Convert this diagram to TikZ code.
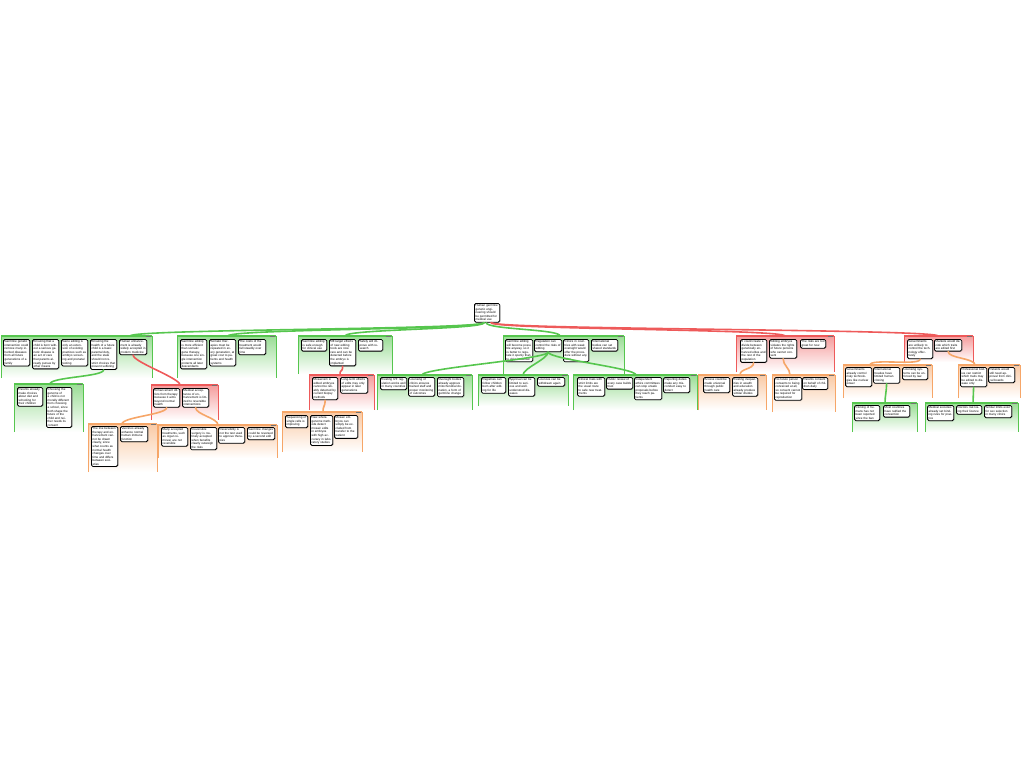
\documentclass[tikz,border=0pt]{standalone}
\usepackage{fontspec}
\setmainfont{Liberation Sans}
\usetikzlibrary{shadows}
\definecolor{pgreen}{RGB}{86,198,78}
\definecolor{pred}{RGB}{238,90,90}
\definecolor{porange}{RGB}{246,166,104}
\tikzset{
  claim/.style={rectangle, rounded corners=1.5pt, draw=black, line width=0.8pt,
    fill=white, drop shadow={shadow xshift=0.7pt, shadow yshift=-0.7pt, opacity=0.45},
    inner sep=1.2pt, anchor=north west, align=left,
    font=\fontsize{3.0}{3.55}\selectfont},
  link/.style={line width=1.6pt, line cap=round}
}
% claim box: name, left x, top y, text width, text
\newcommand{\claim}[5]{\node[claim, text width=#4pt] (#1) at (#2,-#3) {#5};}
% group frame: name, x1, y1, x2, y2, colour, x of the joint on top
\newcommand{\argroup}[7]{
  \shade[top color=#6!60, bottom color=white] (#2,-#3) rectangle (#4,-#5);
  \draw[#6, line width=0.9pt] (#2,-#5) -- (#2,-#3) -- (#4,-#3) -- (#4,-#5);
  \draw[#6, line width=2.2pt] (#2,-#3) -- (#4,-#3);
  \draw[black!55, line width=0.5pt] ({#4-6},-#3) -- ({#4-1},-#3);
  \coordinate (#1) at (#7,-#3);}
\newcommand{\arglink}[3]{\draw[link,#3] (#1) .. controls +(0,-7) and +(0,7) .. (#2);}

\begin{document}
\begin{tikzpicture}[x=1pt,y=1pt]
\useasboundingbox (0,0) rectangle (1024,-768);
% level 1 groups
\argroup{G1}{1}{336}{152}{378}{pgreen}{130}
\argroup{G2}{177}{336}{276}{378}{pgreen}{228}
\argroup{G3}{298}{336}{392}{374}{pgreen}{345}
\argroup{G4}{503}{336}{624}{374}{pgreen}{560}
\argroup{G5}{736}{336}{834}{372}{pred}{785}
\argroup{G6}{904}{336}{973}{362}{pred}{938}
% level 2 groups
\argroup{G1a}{14}{384}{83}{432}{pgreen}{50}
\argroup{G1b}{151}{385}{218}{420}{pred}{180}
\argroup{G3a}{309}{375}{374}{410}{pred}{340}
\argroup{G4a}{377}{375}{472}{410}{pgreen}{422}
\argroup{G4b}{478}{375}{568}{406}{pgreen}{523}
\argroup{G4c}{573}{375}{697}{410}{pgreen}{636}
\argroup{G5a}{698}{375}{766}{410}{porange}{740}
\argroup{G5b}{772}{375}{835}{412}{porange}{790}
\argroup{G6a}{843}{365}{932}{398}{porange}{870}
\argroup{G6b}{958}{365}{1020}{398}{porange}{975}
% level 3 groups
\argroup{G1c}{88}{424}{157}{472}{porange}{122}
\argroup{G1d}{158}{425}{277}{458}{porange}{218}
\argroup{G3b}{282}{412}{362}{452}{porange}{323}
\argroup{G6a1}{852}{403}{917}{432}{pgreen}{885}
\argroup{G6b1}{925}{403}{1018}{432}{pgreen}{973}

% root
\claim{R}{474}{303}{23}{Human germline genetic engineering should be permitted for medical use}
% row 1
\claim{a1}{3}{339}{24}{Germline genetic intervention could remove many inherited diseases from all future generations of a family}
\claim{a2}{32}{339}{24}{Ensuring that a child is born without a serious genetic disease is an act of care that parents already pursue by other means}
\claim{a3}{61}{339}{24}{Gene editing is only an extension of existing practices such as embryo screening and prenatal testing}
\claim{a4}{90}{339}{24}{Ensuring the health of a future child is a basic parental duty, and the state should not restrict choices that prevent suffering}
\claim{a5}{119}{339}{25}{Human enhancement is already widely accepted in modern medicine}
\claim{b1}{180}{339}{24}{Germline editing is more efficient than somatic gene therapy, because one single intervention protects all later descendants}
\claim{b2}{209}{339}{24}{Somatic therapies must be repeated in every generation, at great cost to patients and health systems}
\claim{b3}{238}{339}{25}{The costs of the treatment would fall steadily over time}
\claim{c1}{301}{339}{23}{Germline editing is safe enough for clinical use}
\claim{c2}{329}{339}{24}{Off-target effects of new editing tools are now rare and can be detected before the embryo is implanted}
\claim{c3}{358}{339}{22}{Safety will improve with research}
\claim{d1}{505}{339}{25}{Germline editing will become possible anyway, so it is better to regulate it openly than to drive it abroad}
\claim{d2}{534}{339}{25}{Regulation can control the risks of editing}
\claim{d3}{563}{339}{23}{Clinics in countries with weak oversight would offer the procedure without any rules}
\claim{d4}{591}{339}{24}{International bodies can set shared standards}
\claim{e1}{740}{339}{24}{It could create a divide between genetically enhanced elites and the rest of the population}
\claim{e2}{769}{339}{25}{Editing embryos violates the rights of future persons who cannot consent}
\claim{e3}{800}{339}{23}{The risks are too great for now}
\claim{f1}{907}{339}{23}{Governments are unlikely to control the technology effectively}
\claim{f2}{934}{339}{25}{Markets would decide which traits are edited first}
% row 2
\claim{g1}{17}{387}{23}{Parents already make choices about diet and schooling for their children}
\claim{g2}{46}{387}{23}{Choosing the genome of a child is not morally different from choosing a school, since both shape the future of the child and neither needs its consent}
\claim{h1}{153}{388}{24}{Enhancement differs from therapy because it aims beyond normal health}
\claim{h2}{182}{388}{24}{Medical acceptance of enhancement is limited to reversible interventions}
\claim{k1}{312}{377}{23}{Mosaicism in edited embryos cannot be reliably detected by current biopsy methods}
\claim{k2}{340}{377}{25}{Long-term effects of edits may only appear in later generations}
\claim{m1}{380}{377}{24}{Existing IVF regulation works well in many countries}
\claim{m2}{408}{377}{24}{Licensing of clinics ensures trained staff and proper monitoring of outcomes}
\claim{m3}{437}{377}{24}{Oversight bodies already approve mitochondrial donation, a form of germline change}
\claim{n1}{481}{377}{22}{Registries can follow children born after editing for life}
\claim{n2}{508}{377}{24}{Approval can be limited to serious and well-understood diseases}
\claim{n3}{537}{377}{25}{Licences can be withdrawn again}
\claim{o1}{577}{377}{25}{Clinical trials with strict limits are the usual route to safe new treatments}
\claim{o2}{606}{377}{24}{Public review of every case builds trust}
\claim{o3}{634}{377}{25}{Independent ethics committees can stop unsafe proposals before they reach patients}
\claim{o4}{663}{377}{24}{Reporting duties make any misconduct easy to detect}
\claim{p1}{703}{377}{24}{Access could be made universal through public health care}
\claim{p2}{732}{377}{23}{Existing inequalities in wealth and education already produce similar divides}
\claim{q1}{774}{377}{25}{No future person consents to being conceived at all, so consent cannot be required for reproduction}
\claim{q2}{802}{377}{23}{Parents consent on behalf of children daily}
\claim{r1}{845}{367}{24}{Governments already control risky technologies like nuclear power}
\claim{r2}{873}{367}{24}{International treaties have limited human cloning}
\claim{r3}{902}{367}{23}{Licensing systems can be enforced by law}
\claim{s1}{960}{367}{24}{Professional bodies can restrict which traits may be edited to disease only}
\claim{s2}{988}{367}{24}{Patients would still need approval from clinical boards}
% row 3
\claim{i1}{91}{426}{24}{The line between therapy and enhancement cannot be drawn clearly, since what counts as normal health changes over time and differs between societies}
\claim{i2}{120}{426}{25}{Vaccines already enhance normal human immune function}
\claim{j1}{161}{427}{24}{Many accepted treatments, such as organ removal, are not reversible}
\claim{j2}{190}{427}{24}{Irreversible surgery is routinely accepted when benefits clearly outweigh the risks}
\claim{j3}{218}{427}{24}{Reversibility is not the test used to approve therapies}
\claim{j4}{247}{427}{25}{Germline changes could be reversed by a second edit}
\claim{l1}{285}{415}{20}{Sequencing of single cells is improving}
\claim{l2}{310}{415}{20}{New whole-genome methods detect mosaic edits in embryos with high accuracy in laboratory studies}
\claim{l3}{334}{415}{21}{Mosaic embryos can simply be excluded from transfer to the patient}
\claim{t1}{854}{405}{23}{Cloning of humans has not been reported since the ban}
\claim{t2}{883}{405}{24}{Most countries have ratified the convention}
\claim{u1}{927}{405}{24}{Medical societies already set binding rules for practice}
\claim{u2}{956}{405}{23}{Doctors risk losing their licence}
\claim{u3}{984}{405}{25}{Similar limits exist for sex selection in many clinics}

% links from the root
\arglink{[xshift=-3pt]R.south}{G1}{pgreen}
\arglink{[xshift=-3pt]R.south}{G2}{pgreen}
\arglink{[xshift=-3pt]R.south}{G3}{pgreen}
\arglink{[xshift=-1pt]R.south}{G4}{pgreen}
\arglink{[xshift=4pt]R.south}{G5}{pred}
\arglink{[xshift=4pt]R.south}{G6}{pred}
% links below
\arglink{a4.south}{G1a}{pgreen}
\arglink{a5.south}{G1b}{pred}
\arglink{h1.south}{G1c}{porange}
\arglink{h2.south}{G1d}{porange}
\arglink{c2.south}{G3a}{pred}
\arglink{k1.south}{G3b}{porange}
\arglink{d2.south}{G4a}{pgreen}
\arglink{d2.south}{G4b}{pgreen}
\arglink{d2.south}{G4c}{pgreen}
\arglink{e1.south}{G5a}{porange}
\arglink{e2.south}{G5b}{porange}
\arglink{f1.south}{G6a}{porange}
\arglink{f2.south}{G6b}{porange}
\arglink{r2.south}{G6a1}{pgreen}
\arglink{s1.south}{G6b1}{pgreen}
\end{tikzpicture}
\end{document}
